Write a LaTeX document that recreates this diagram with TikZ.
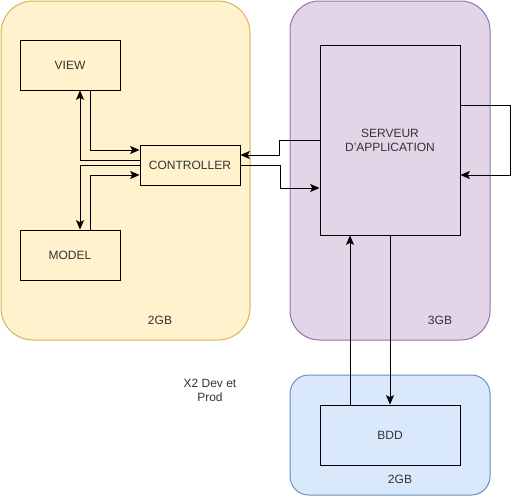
\documentclass[tikz,border=0pt]{standalone}
\usepackage{fontspec}
\setmainfont{Liberation Sans}
\usetikzlibrary{arrows.meta,calc}
\definecolor{yfill}{HTML}{FFF2CC}
\definecolor{ydraw}{HTML}{D6B656}
\definecolor{pfill}{HTML}{E1D5E7}
\definecolor{pdraw}{HTML}{9673A6}
\definecolor{bfill}{HTML}{DAE8FC}
\definecolor{bdraw}{HTML}{6C8EBF}
\definecolor{txt}{HTML}{333333}
\begin{document}
\begin{tikzpicture}[x=0.75pt,y=-0.75pt,
  font=\fontsize{9pt}{10.5pt}\selectfont,
  container/.style={draw=#1, line width=0.75pt, inner sep=0pt},
  box/.style={draw=black, line width=0.75pt, inner sep=0pt, text=txt, align=center},
  lbl/.style={text=txt, inner sep=0pt, align=center},
  arr/.style={line width=0.75pt, -{Stealth[length=7pt,width=6pt,inset=1.5pt]}},
  ]
\useasboundingbox (0,0) rectangle (519,496);
% containers
\draw[container=ydraw, fill=yfill, rounded corners=24pt] (1,1) rectangle (250,340);
\draw[container=pdraw, fill=pfill, rounded corners=22pt] (290,1) rectangle (490,340);
\draw[container=bdraw, fill=bfill, rounded corners=14pt] (290,375) rectangle (490,495);
% boxes
\node[box, minimum width=75pt, minimum height=37.5pt] (view) at (70,65) {VIEW};
\node[box, minimum width=75pt, minimum height=37.5pt] (model) at (70,255) {MODEL};
\node[box, minimum width=75pt, minimum height=30pt] (ctrl) at (190,165) {CONTROLLER};
\node[box, minimum width=105pt, minimum height=142.5pt] (serv) at (390,140) {SERVEUR\\D'APPLICATION};
\node[box, minimum width=105pt, minimum height=45pt] (bdd) at (390,435) {BDD};
% labels
\node[lbl] (l1) at (160,320) {2GB};
\node[lbl] (l2) at (440,320) {3GB};
\node[lbl] (l3) at (400,479) {2GB};
\node[lbl] (l4) at (210,390) {X2 Dev et\\Prod};
% connectors
\draw[arr] ($(view.south)+(20,0)$) |- ($(ctrl.west)+(0,-15)$);
\draw[arr] ($(ctrl.west)+(0,-5)$) -| ($(view.south)+(10,0)$);
\draw[arr] (ctrl.west) -| ($(model.north)+(10,0)$);
\draw[arr] ($(model.north)+(20,0)$) |- ($(ctrl.west)+(0,10)$);
\draw[arr] (serv.west) -- ++(-40,0) |- ($(ctrl.east)+(0,-10)$);
\draw[arr] (ctrl.east) -- ++(40,0) |- ($(serv.west)+(0,48)$);
\draw[arr] ($(serv.east)+(0,-35)$) -- ++(50,0) |- ($(serv.east)+(0,35)$);
\draw[arr] ($(bdd.north)+(-40,0)$) -- ($(serv.south)+(-40,0)$);
\draw[arr] (serv.south) -- (bdd.north);
\end{tikzpicture}
\end{document}
